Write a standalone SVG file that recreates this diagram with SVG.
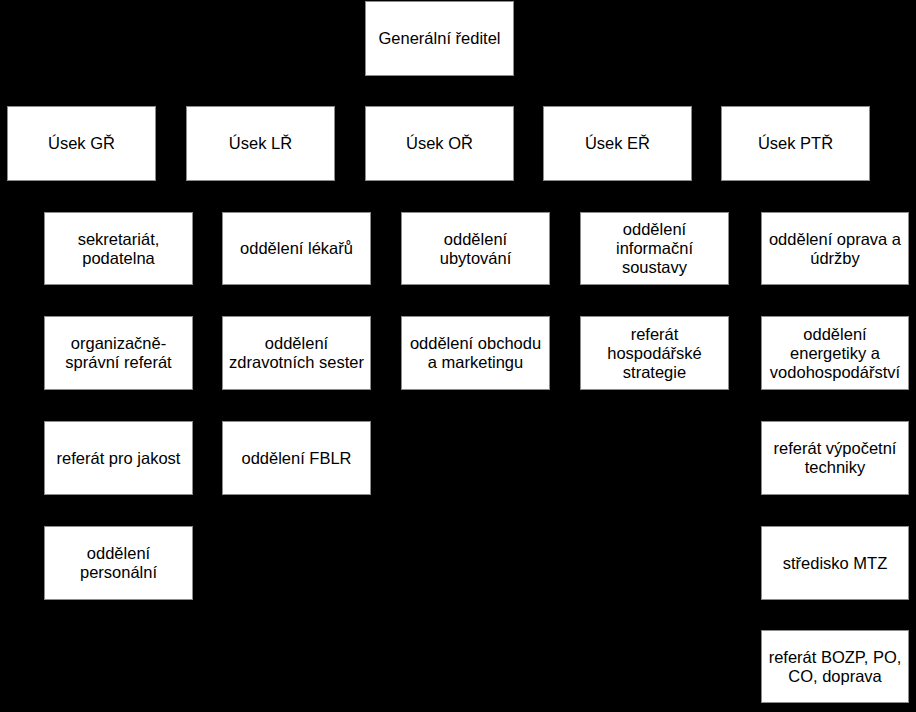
<svg xmlns="http://www.w3.org/2000/svg" width="916" height="712" viewBox="0 0 916 712">
<style>
.bg{fill:#000}
.box{fill:#fff;stroke:#8c8c8c;stroke-width:1}
text{font-family:"Liberation Sans","DejaVu Sans",sans-serif;font-size:16.5px;fill:#000;text-anchor:middle}
</style>
<rect class="bg" x="0" y="0" width="916" height="712"/>
<g id="connectors"></g>
<g id="gr"><rect class="box" x="365.5" y="1.5" width="148" height="74"/><text x="439.5" y="44">Generální ředitel</text></g>
<g id="usek-gr"><rect class="box" x="7.5" y="106.5" width="148" height="74"/><text x="81.5" y="149">Úsek GŘ</text></g>
<g id="usek-lr"><rect class="box" x="186.5" y="106.5" width="148" height="74"/><text x="260.5" y="149">Úsek LŘ</text></g>
<g id="usek-or"><rect class="box" x="365.5" y="106.5" width="148" height="74"/><text x="439.5" y="149">Úsek OŘ</text></g>
<g id="usek-er"><rect class="box" x="543.5" y="106.5" width="148" height="74"/><text x="617.5" y="149">Úsek EŘ</text></g>
<g id="usek-ptr"><rect class="box" x="721.5" y="106.5" width="148" height="74"/><text x="795.5" y="149">Úsek PTŘ</text></g>

<g id="sekretariat"><rect class="box" x="44.5" y="212.5" width="148" height="72"/><text x="118.5" y="244.5">sekretariát,</text><text x="118.5" y="263.5">podatelna</text></g>
<g id="org-spravni"><rect class="box" x="44.5" y="316.5" width="148" height="73"/><text x="118.5" y="349">organizačně-</text><text x="118.5" y="368">správní referát</text></g>
<g id="jakost"><rect class="box" x="44.5" y="421.5" width="148" height="73"/><text x="118.5" y="463.5">referát pro jakost</text></g>
<g id="personalni"><rect class="box" x="44.5" y="526.5" width="148" height="73"/><text x="118.5" y="558.5">oddělení</text><text x="118.5" y="577.5">personální</text></g>

<g id="lekari"><rect class="box" x="222.5" y="212.5" width="148" height="72"/><text x="296.5" y="254">oddělení lékařů</text></g>
<g id="sestry"><rect class="box" x="222.5" y="316.5" width="148" height="73"/><text x="296.5" y="349">oddělení</text><text x="296.5" y="368">zdravotních sester</text></g>
<g id="fblr"><rect class="box" x="222.5" y="421.5" width="148" height="73"/><text x="296.5" y="463.5">oddělení FBLR</text></g>

<g id="ubytovani"><rect class="box" x="401.5" y="212.5" width="148" height="72"/><text x="475.5" y="244.5">oddělení</text><text x="475.5" y="263.5">ubytování</text></g>
<g id="obchod"><rect class="box" x="401.5" y="316.5" width="148" height="73"/><text x="475.5" y="349">oddělení obchodu</text><text x="475.5" y="368">a marketingu</text></g>

<g id="informacni"><rect class="box" x="580.5" y="212.5" width="148" height="72"/><text x="654.5" y="235">oddělení</text><text x="654.5" y="254">informační</text><text x="654.5" y="273">soustavy</text></g>
<g id="hospodarska"><rect class="box" x="580.5" y="316.5" width="148" height="73"/><text x="654.5" y="339.5">referát</text><text x="654.5" y="358.5">hospodářské</text><text x="654.5" y="377.5">strategie</text></g>

<g id="oprava"><rect class="box" x="761.5" y="212.5" width="147" height="72"/><text x="835" y="244.5">oddělení oprava a</text><text x="835" y="263.5">údržby</text></g>
<g id="energetika"><rect class="box" x="761.5" y="316.5" width="147" height="73"/><text x="835" y="339.5">oddělení</text><text x="835" y="358.5">energetiky a</text><text x="835" y="377.5">vodohospodářství</text></g>
<g id="vypocetni"><rect class="box" x="761.5" y="421.5" width="147" height="73"/><text x="835" y="453.5">referát výpočetní</text><text x="835" y="472.5">techniky</text></g>
<g id="mtz"><rect class="box" x="761.5" y="526.5" width="147" height="73"/><text x="835" y="568.5">středisko MTZ</text></g>
<g id="bozp"><rect class="box" x="761.5" y="630.5" width="147" height="72"/><text x="835" y="662.5">referát BOZP, PO,</text><text x="835" y="681.5">CO, doprava</text></g>
</svg>
